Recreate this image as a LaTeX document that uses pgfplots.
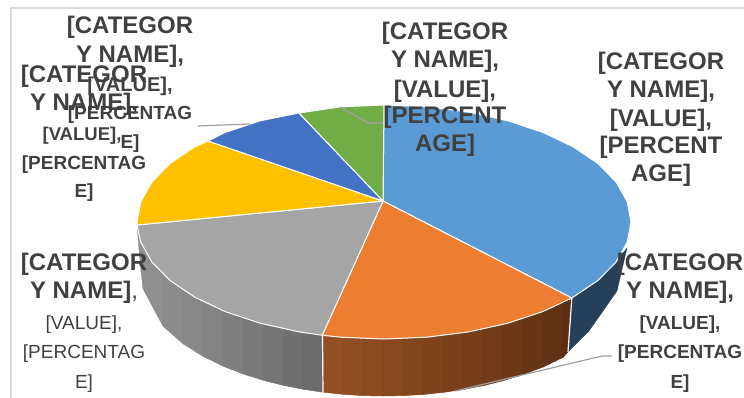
\documentclass[border=0pt]{standalone}
\usepackage{fontspec}
\setmainfont{Liberation Sans}
\usepackage{pgfplots}
\pgfplotsset{compat=1.18}
\definecolor{pblue}{HTML}{5B9BD5}
\definecolor{porange}{HTML}{ED7D31}
\definecolor{pgray}{HTML}{A5A5A5}
\definecolor{pyellow}{HTML}{FFC000}
\definecolor{pdblue}{HTML}{4472C4}
\definecolor{pgreen}{HTML}{70AD47}
\definecolor{wblue}{HTML}{254058}
\definecolor{brL}{HTML}{945022}
\definecolor{brR}{HTML}{5C2F12}
\definecolor{grL}{HTML}{8F8F8F}
\definecolor{grR}{HTML}{666666}
\definecolor{txt}{HTML}{404040}
\definecolor{lead}{HTML}{A0A0A0}
\definecolor{frame}{HTML}{D9D9D9}
\newcommand\lb[4]{\node[anchor=base,text=txt,inner sep=0pt] at (axis cs:#1,#2) {\fontsize{#3}{#3}\selectfont\bfseries #4};}
\newcommand\lr[4]{\node[anchor=base,text=txt,inner sep=0pt] at (axis cs:#1,#2) {\fontsize{#3}{#3}\selectfont #4};}
\begin{document}
\begin{tikzpicture}
\begin{axis}[scale only axis,width=744pt,height=398pt,xmin=0,xmax=744,ymin=0,ymax=398,y dir=reverse,axis lines=none,clip=true]
\path (axis cs:0,0) rectangle (axis cs:744,398);
% frame
\addplot[frame,line width=1.6pt] coordinates {(11,398)(11,8)(744,8)};
% walls: blue
\addplot[fill=wblue,draw=wblue,line width=0.3pt] coordinates {(571.8,298)(597.9,280.5)(616.1,262)(627,248)(617,291)(589,331)(568,352)(571.8,298)};
% walls: brown strips
\addplot[fill=brL!100!brR,draw=brL!100!brR,line width=0.5pt] coordinates {(323,335.4)(343,337.4)(343,394.3)(323,392.2)(323,335.4)};
\addplot[fill=brL!92!brR,draw=brL!92!brR,line width=0.5pt] coordinates {(343,337.4)(363,338.6)(363,395.6)(343,394.3)(343,337.4)};
\addplot[fill=brL!84!brR,draw=brL!84!brR,line width=0.5pt] coordinates {(363,338.6)(383,339)(383,396)(363,395.6)(363,338.6)};
\addplot[fill=brL!76!brR,draw=brL!76!brR,line width=0.5pt] coordinates {(383,339)(403,338.7)(403,395.6)(383,396)(383,339)};
\addplot[fill=brL!68!brR,draw=brL!68!brR,line width=0.5pt] coordinates {(403,338.7)(423,337.5)(423,394.5)(403,395.6)(403,338.7)};
\addplot[fill=brL!60!brR,draw=brL!60!brR,line width=0.5pt] coordinates {(423,337.5)(443,335.6)(443,392.4)(423,394.5)(423,337.5)};
\addplot[fill=brL!52!brR,draw=brL!52!brR,line width=0.5pt] coordinates {(443,335.6)(463,332.9)(463,389.5)(443,392.4)(443,335.6)};
\addplot[fill=brL!44!brR,draw=brL!44!brR,line width=0.5pt] coordinates {(463,332.9)(483,329.2)(483,385.7)(463,389.5)(463,332.9)};
\addplot[fill=brL!36!brR,draw=brL!36!brR,line width=0.5pt] coordinates {(483,329.2)(503,324.5)(503,380.7)(483,385.7)(483,329.2)};
\addplot[fill=brL!28!brR,draw=brL!28!brR,line width=0.5pt] coordinates {(503,324.5)(523,318.7)(523,374.6)(503,380.7)(503,324.5)};
\addplot[fill=brL!20!brR,draw=brL!20!brR,line width=0.5pt] coordinates {(523,318.7)(543,311.5)(543,367)(523,374.6)(523,318.7)};
\addplot[fill=brL!10!brR,draw=brL!10!brR,line width=0.5pt] coordinates {(543,311.5)(563,302.6)(563,357.4)(543,367)(543,311.5)};
\addplot[fill=brR,draw=brR,line width=0.5pt] coordinates {(563,302.6)(571.8,298)(568,352)(563,357.4)(563,302.6)};
% walls: gray strips
\addplot[fill=grL,draw=grL,line width=0.3pt] coordinates {(137,225)(143,247.6)(143,288.7)(141,272)(139,250)(137,225)};
\addplot[fill=grL!100!grR,draw=grL!100!grR,line width=0.5pt] coordinates {(143,247.6)(163,274.3)(163,326.1)(143,288.7)(143,247.6)};
\addplot[fill=grL!90!grR,draw=grL!90!grR,line width=0.5pt] coordinates {(163,274.3)(183,290)(183,343.7)(163,326.1)(163,274.3)};
\addplot[fill=grL!80!grR,draw=grL!80!grR,line width=0.5pt] coordinates {(183,290)(203,301.6)(203,356.3)(183,343.7)(183,290)};
\addplot[fill=grL!70!grR,draw=grL!70!grR,line width=0.5pt] coordinates {(203,301.6)(223,310.7)(223,366.1)(203,356.3)(203,301.6)};
\addplot[fill=grL!60!grR,draw=grL!60!grR,line width=0.5pt] coordinates {(223,310.7)(243,318.1)(243,373.9)(223,366.1)(223,310.7)};
\addplot[fill=grL!48!grR,draw=grL!48!grR,line width=0.5pt] coordinates {(243,318.1)(263,324)(263,380.2)(243,373.9)(243,318.1)};
\addplot[fill=grL!36!grR,draw=grL!36!grR,line width=0.5pt] coordinates {(263,324)(283,328.8)(283,385.2)(263,380.2)(263,324)};
\addplot[fill=grL!24!grR,draw=grL!24!grR,line width=0.5pt] coordinates {(283,328.8)(303,332.5)(303,389.2)(283,385.2)(283,328.8)};
\addplot[fill=grL!12!grR,draw=grL!12!grR,line width=0.5pt] coordinates {(303,332.5)(323,335.4)(323,392.2)(303,389.2)(303,332.5)};
% wall separators
\addplot[white,line width=1.2pt] coordinates {(322.5,336)(323,393)};
\addplot[white,line width=1.2pt] coordinates {(571.8,298)(568,352)};
% top face
\addplot[fill=pblue,draw=white,line width=1pt] coordinates {(383,201)(384,105)(426.9,106.8)(468.5,112.1)(507.5,120.7)(542.8,132.4)(573.2,146.8)(597.9,163.5)(616.1,182)(627.2,201.7)(631,222)(627.2,242.3)(616.1,262)(597.9,280.5)(571.8,298)(383,201)};
\addplot[fill=porange,draw=white,line width=1pt] coordinates {(383,201)(571.8,298)(542.8,311.6)(507.5,323.3)(468.5,331.9)(426.9,337.2)(384,339)(341.1,337.2)(322.2,335.3)(383,201)};
\addplot[fill=pgray,draw=white,line width=1pt] coordinates {(383,201)(322.2,335.3)(299.5,331.9)(260.5,323.3)(225.2,311.6)(194.8,297.2)(170.1,280.5)(151.9,262)(140.8,242.3)(137,225)(383,201)};
\addplot[fill=pyellow,draw=white,line width=1pt] coordinates {(383,201)(137,225)(137,222)(140.8,201.7)(151.9,182)(170.1,163.5)(194.8,146.8)(208,141)(383,201)};
\addplot[fill=pdblue,draw=white,line width=1pt] coordinates {(383,201)(208,141)(225.2,132.4)(260.5,120.7)(299,113)(383,201)};
\addplot[fill=pgreen,draw=white,line width=1pt] coordinates {(383,201)(299,113)(341.1,106.8)(384,105)(383,201)};
% leader lines
\addplot[lead,line width=1.2pt] coordinates {(198,126)(250,124)};
\addplot[lead,line width=1.2pt] coordinates {(340,107)(368,123)(383,123)};
\addplot[lead,line width=1.2pt] coordinates {(612,356)(602,356)(455,391)};
% labels
\lb{130}{34}{24}{[CATEGOR}
\lb{130}{63}{24}{Y NAME],}
\lb{130}{92}{20}{[VALUE],}
\lb{130}{120}{19}{[PERCENTAG}
\lb{130}{149}{19}{E]}
\lb{84}{83}{24}{[CATEGOR}
\lb{84}{111}{24}{Y NAME],}
\lb{82}{141}{18.5}{[VALUE],}
\lb{84}{170}{19}{[PERCENTAG}
\lb{84}{198}{19}{E]}
\lb{445}{40}{24}{[CATEGOR}
\lb{445}{68}{24}{Y NAME],}
\lb{445}{98}{24}{[VALUE],}
\lb{445}{124}{24}{[PERCENT}
\lb{445}{152}{24}{AGE]}
\lb{661}{70}{24}{[CATEGOR}
\lb{661}{98}{24}{Y NAME],}
\lb{661}{127}{24}{[VALUE],}
\lb{661}{154}{24}{[PERCENT}
\lb{661}{182}{24}{AGE]}
\lb{680}{270}{24}{[CATEGOR}
\lb{680}{298}{24}{Y NAME],}
\lb{680}{329}{19}{[VALUE],}
\lb{680}{358}{19}{[PERCENTAG}
\lb{680}{388}{19}{E]}
\lb{84}{270}{24}{[CATEGOR}
\node[anchor=base,text=txt,inner sep=0pt] at (axis cs:84,298) {\fontsize{24}{24}\selectfont\textbf{Y NAME]},};
\lr{84}{329}{19}{[VALUE],}
\lr{84}{358}{19}{[PERCENTAG}
\lr{84}{388}{19}{E]}
\end{axis}
\end{tikzpicture}
\end{document}
